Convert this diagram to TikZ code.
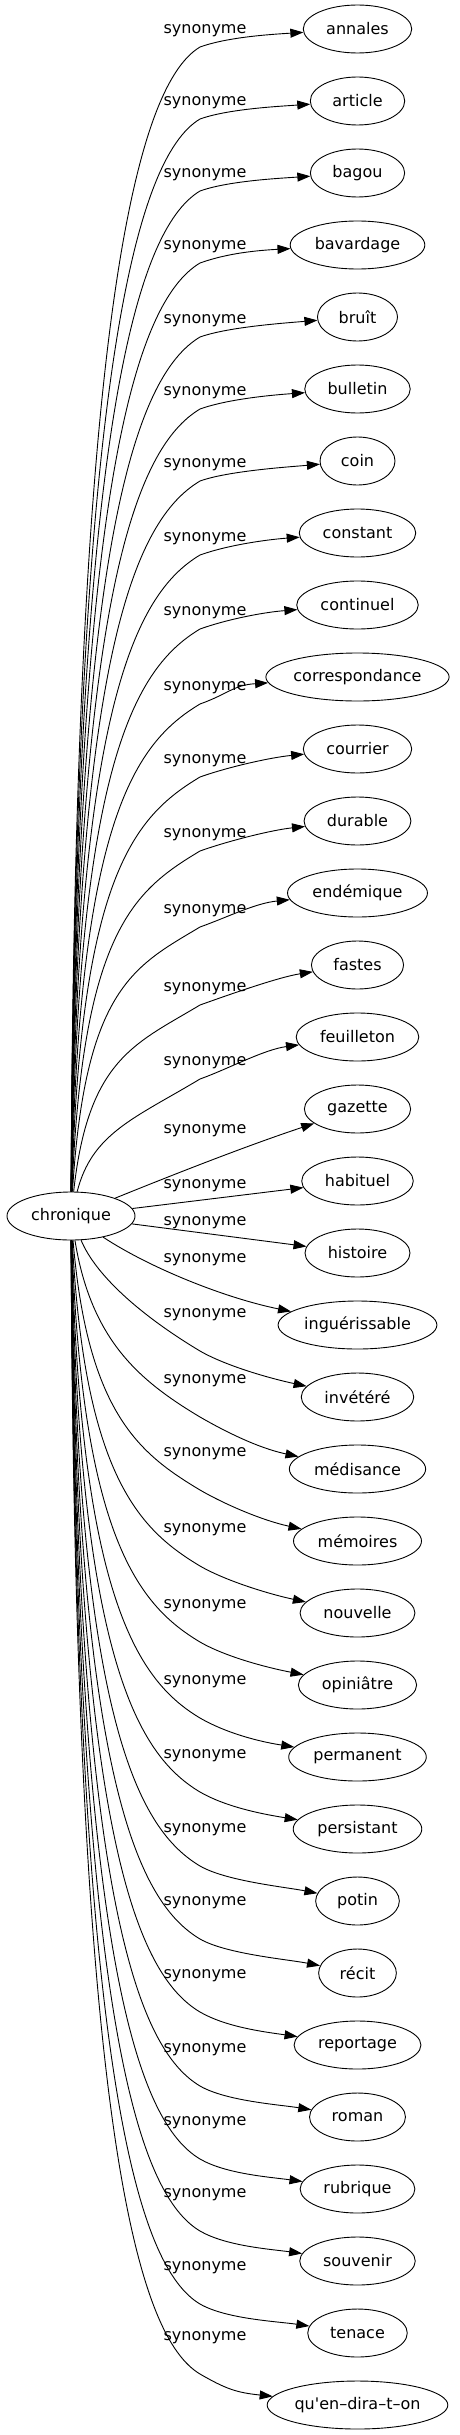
\documentclass[tikz,border=0pt]{standalone}
\usepackage{fontspec}
\setmainfont{DejaVu Sans}[Ligatures=TeXOff]
\usetikzlibrary{arrows.meta,calc,shapes.geometric}
\begin{document}
\fontsize{16}{19}\selectfont
\begin{tikzpicture}[x=1pt, y=-1pt, >={Triangle[length=13pt,width=9pt]},
		mot/.style={draw, ellipse, line width=0.9pt, minimum height=48pt, inner xsep=0pt, inner ysep=3pt},
		lien/.style={draw, ->, line width=0.9pt},
		etiq/.style={inner sep=0pt}]
	\useasboundingbox (0,0) rectangle (459,2435);
	\node[mot, minimum width={1.14*(width("chronique")+32.6)}] (chron) at (71,1216) {chronique};
	\foreach \name/\word/\ly [count=\i from 0] in {
			annales/annales/31, article/article/103, bagou/bagou/175, bavardage/bavardage/247,
			bruit/bruît/321, bulletin/bulletin/393, coin/coin/465, constant/constant/539,
			continuel/continuel/613, correspondance/correspondance/688, courrier/courrier/761,
			durable/durable/835, endemique/endémique/911, fastes/fastes/989, feuilleton/feuilleton/1063,
			gazette/gazette/1131, habituel/habituel/1186, histoire/histoire/1223,
			guerissable/inguérissable/1260, invetere/invétéré/1315, medisance/médisance/1381,
			memoires/mémoires/1454, nouvelle/nouvelle/1530, opiniatre/opiniâtre/1606,
			permanent/permanent/1682, persistant/persistant/1756, potin/potin/1830, recit/récit/1903,
			reportage/reportage/1976, roman/roman/2050, rubrique/rubrique/2123, souvenir/souvenir/2195,
			tenace/tenace/2268, quen/qu'en–dira–t–on/2338} {
		\pgfmathsetmacro\y{29+72*\i}
		\node[mot, minimum width={1.14*(width("\word")+32.6)}] (\name) at (357.5,\y) {\word};
		\node[etiq] (l\i) at (205,\ly) {synonyme};
		\ifnum\i<15
			\draw[lien] (chron) .. controls ({74+30*exp(-(1216-\ly)/300)},{\ly+max(0.25*(1216-\ly),70)}) and (135,{\ly+55}) .. (200,{\ly+16})
				.. controls (228,{\ly+6}) and ($(\name.west)+(-32,{0.3*(\ly+16-\y)})$) .. (\name);
		\fi
		\ifnum\i>18
			\draw[lien] (chron) .. controls ({74+30*exp(-(\ly-1216)/300)},{\ly-max(0.17*(\ly-1216),40)}) and (140,\ly) .. (200,{\ly+36})
				.. controls (226,{\ly+51}) and ($(\name.west)+(-30,{-0.4*(\y-\ly-36)})$) .. (\name);
		\fi
	}
	\draw[lien] (chron) .. controls (160,1180) and (240,1148) .. (gazette);
	\draw[lien] (chron) -- (habituel);
	\draw[lien] (chron) -- (histoire);
	\draw[lien] (chron) .. controls (150,1268) and (225,1298) .. (guerissable);
\end{tikzpicture}
\end{document}
